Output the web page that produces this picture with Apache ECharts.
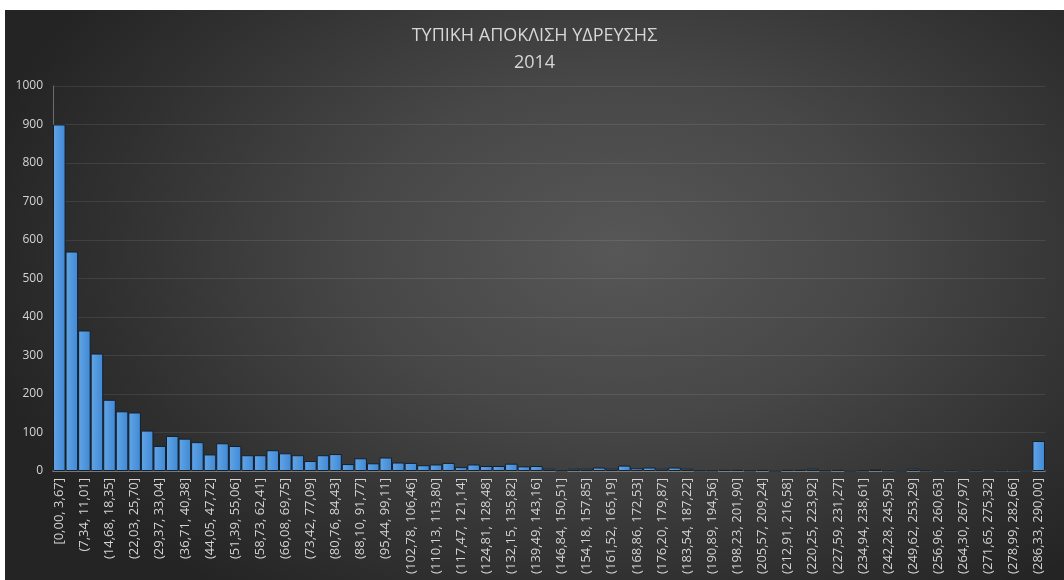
<!DOCTYPE html>
<html>
<head>
<meta charset="utf-8">
<script src="https://cdn.jsdelivr.net/npm/echarts@6/dist/echarts.min.js"></script>
<style>
  html, body { margin: 0; padding: 0; background: #ffffff; }
  #frame {
    position: absolute; left: 5px; top: 10px; width: 1059px; height: 570px;
    background: radial-gradient(ellipse 62% 75% at 58% 42%, #575757 0%, #474747 40%, #2f2f2f 80%, #242424 100%);
  }
  #chart { width: 100%; height: 100%; }
</style>
</head>
<body>
<div id="frame"><div id="chart"></div></div>
<script>
// Bin edges of the histogram (79 bins from 0 to 290)
const binEdges = [
  '0,00', '3,67', '7,34', '11,01', '14,68', '18,35', '22,03', '25,70', '29,37', '33,04',
  '36,71', '40,38', '44,05', '47,72', '51,39', '55,06', '58,73', '62,41', '66,08', '69,75',
  '73,42', '77,09', '80,76', '84,43', '88,10', '91,77', '95,44', '99,11', '102,78', '106,46',
  '110,13', '113,80', '117,47', '121,14', '124,81', '128,48', '132,15', '135,82', '139,49', '143,16',
  '146,84', '150,51', '154,18', '157,85', '161,52', '165,19', '168,86', '172,53', '176,20', '179,87',
  '183,54', '187,22', '190,89', '194,56', '198,23', '201,90', '205,57', '209,24', '212,91', '216,58',
  '220,25', '223,92', '227,59', '231,27', '234,94', '238,61', '242,28', '245,95', '249,62', '253,29',
  '256,96', '260,63', '264,30', '267,97', '271,65', '275,32', '278,99', '282,66', '286,33', '290,00'
];

// Frequency of each bin
const counts = [
  900, 570, 365, 305, 185, 155, 152, 105, 65, 91,
  84, 75, 43, 72, 65, 41, 41, 54, 46, 41,
  26, 41, 44, 18, 33, 20, 35, 22, 21, 15,
  17, 21, 10, 17, 13, 13, 19, 12, 13, 6,
  1, 6, 6, 9, 6, 14, 7, 9, 6, 9,
  6, 1, 1, 3, 3, 1, 3, 0, 3, 3,
  6, 1, 3, 0, 1, 4, 1, 0, 6, 1,
  0, 1, 0, 1, 0, 1, 1, 0, 78
];

const yTicks = { min: 0, max: 1000, step: 100 };
const titleLines = ['ΤΥΠΙΚΗ ΑΠΟΚΛΙΣΗ ΥΔΡΕΥΣΗΣ', '2014'];

// Category labels: first bin closed on both ends, the rest half-open on the left
const categories = counts.map((_, i) =>
  (i === 0 ? '[' : '(') + binEdges[i] + ', ' + binEdges[i + 1] + ']'
);

const chart = echarts.init(document.getElementById('chart'), null, { renderer: 'canvas' });
chart.setOption({
  backgroundColor: 'transparent',
  animation: false,
  title: {
    text: titleLines.join('\n'),
    left: 'center',
    top: 7,
    textStyle: {
      color: '#d6d6d6',
      fontFamily: 'Open Sans',
      fontWeight: 'normal',
      fontSize: 18,
      lineHeight: 27
    }
  },
  grid: { left: 48, right: 19, top: 76, bottom: 109, containLabel: false },
  xAxis: {
    type: 'category',
    data: categories,
    axisLine: { show: true, lineStyle: { color: '#8e8e8e', width: 1.5 } },
    axisTick: { show: false },
    axisLabel: {
      interval: 1,
      rotate: 90,
      margin: 7,
      color: '#d4d4d4',
      fontFamily: 'Open Sans',
      fontSize: 13
    },
    splitLine: { show: false }
  },
  yAxis: {
    type: 'value',
    min: yTicks.min,
    max: yTicks.max,
    interval: yTicks.step,
    axisLine: { show: true, lineStyle: { color: '#6c6c6c', width: 1 } },
    axisTick: { show: false },
    axisLabel: {
      margin: 10,
      color: '#d4d4d4',
      fontFamily: 'Open Sans',
      fontSize: 12,
      formatter: v => String(v)
    },
    splitLine: { show: true, lineStyle: { color: 'rgba(255,255,255,0.09)', width: 1 } }
  },
  series: [{
    type: 'bar',
    data: counts,
    barCategoryGap: '0%',
    itemStyle: {
      color: new echarts.graphic.LinearGradient(0, 0, 1, 0, [
        { offset: 0, color: '#63a6e6' },
        { offset: 1, color: '#3f88d5' }
      ]),
      borderColor: '#16202b',
      borderWidth: 1
    }
  }]
});
</script>
</body>
</html>
